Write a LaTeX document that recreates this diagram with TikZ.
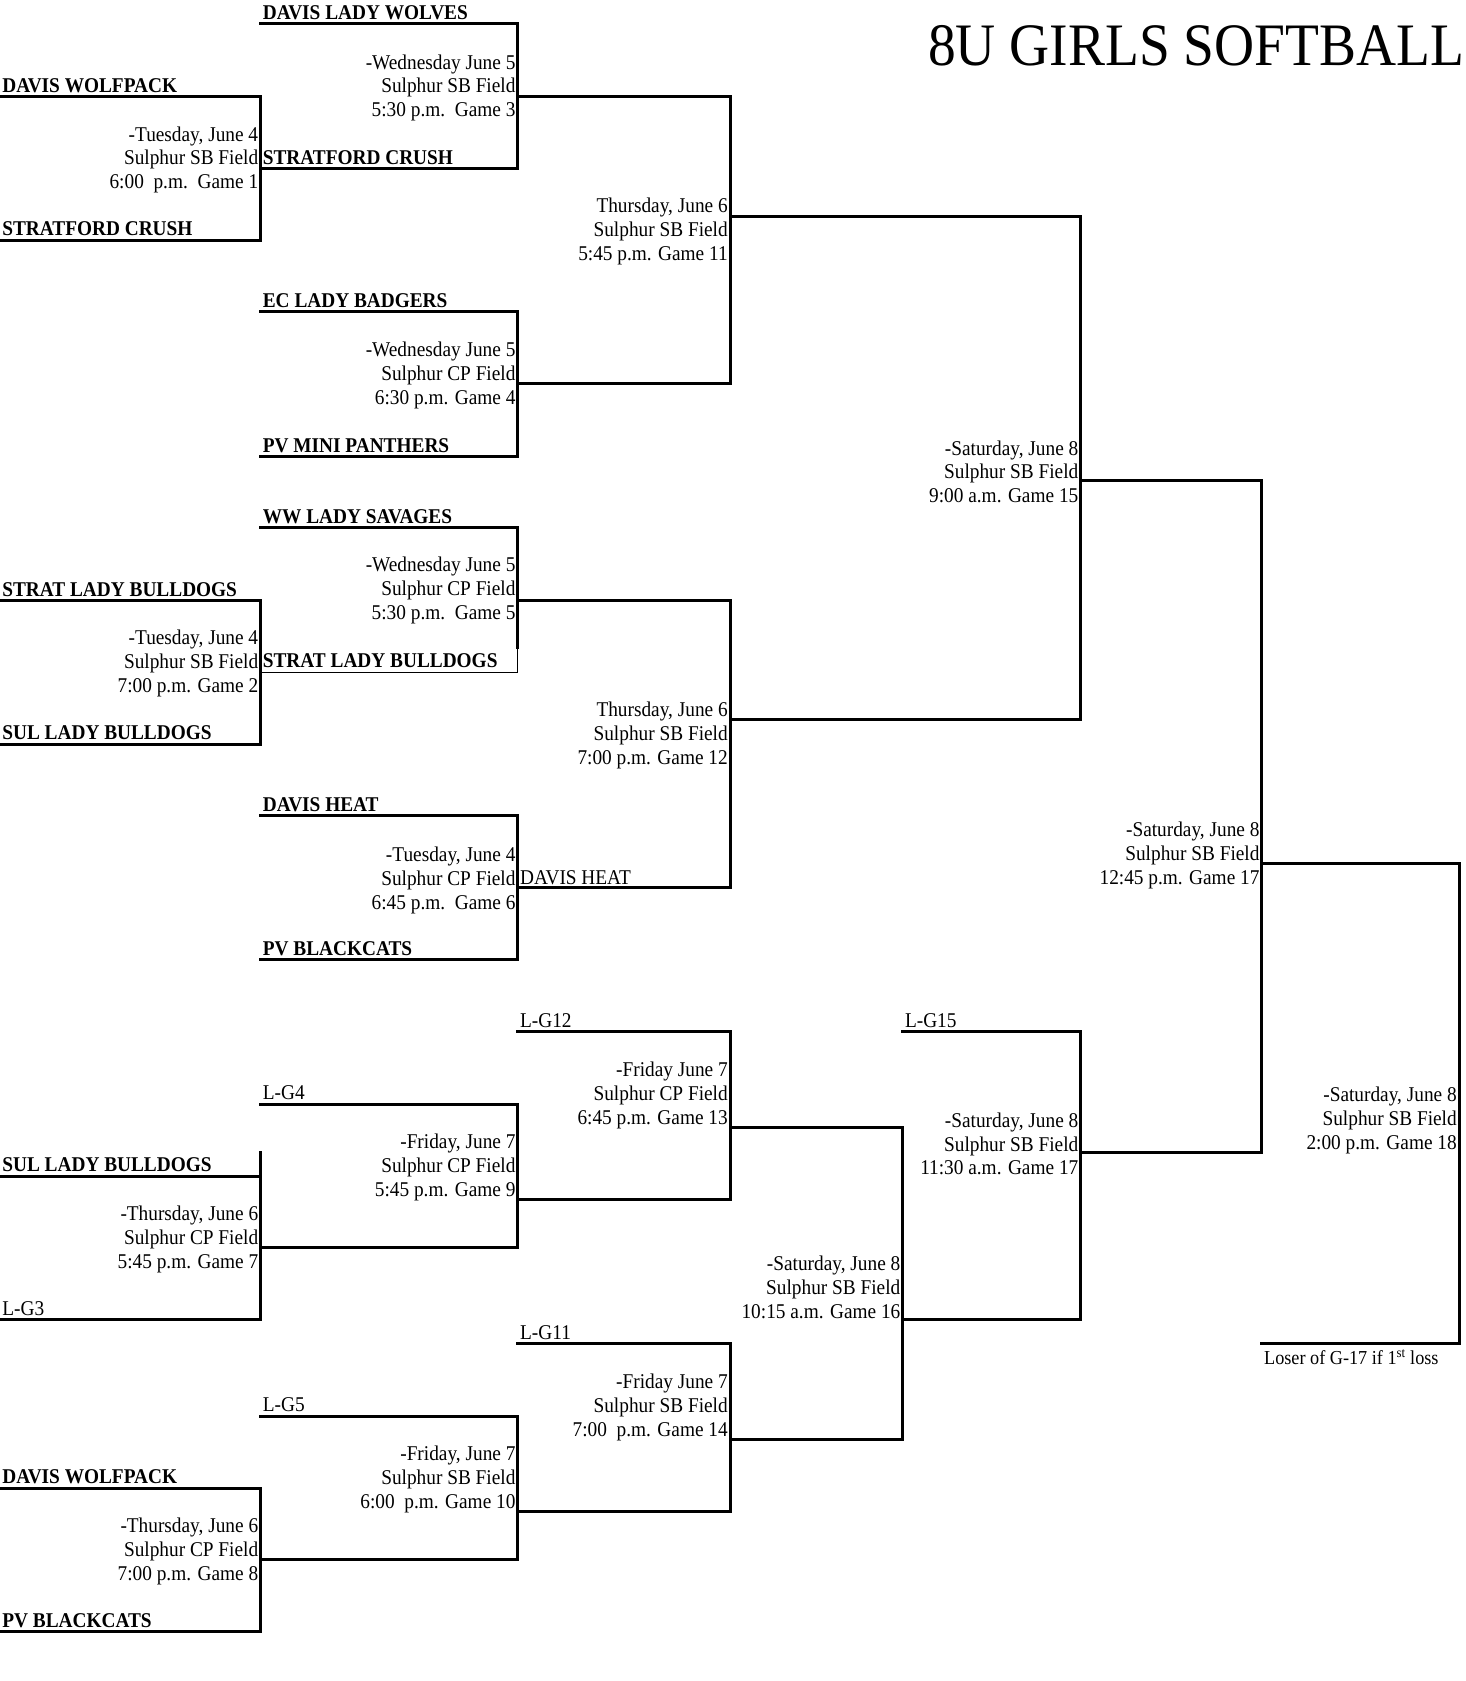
\documentclass[tikz,border=0pt]{standalone}
\usepackage{fontspec}
\setmainfont{Liberation Serif}[FakeStretch=0.92]
\begin{document}
\begin{tikzpicture}[x=1.0724pt,y=-1.0724pt,
  br/.style={line width=3pt,line cap=rect},
  thin/.style={line width=1pt},
  info/.style={anchor=east,align=right,inner sep=0pt,font=\fontsize{21}{23.8}\selectfont},
  team/.style={anchor=base west,inner sep=0pt,font=\fontsize{21}{23.8}\selectfont\bfseries},
  plain/.style={anchor=base west,inner sep=0pt,font=\fontsize{21}{23.8}\selectfont}]
\useasboundingbox (0,0) rectangle (1367,1568);
\fill[white] (0,0) rectangle (1367,1568);
% title
\node[anchor=base east,inner sep=0pt,font=\fontsize{60.3}{64}\selectfont] (title) at (1366,61) {8U GIRLS SOFTBALL};
% ---------- column 1 brackets ----------
\draw[br] (0,90) -- (243,90) -- (243,224) -- (0,224);
\draw[br] (0,560) -- (243,560) -- (243,694) -- (0,694);
\draw[br] (0,1097) -- (243,1097);
\draw[br] (243,1075) -- (243,1231) -- (0,1231);
\draw[br] (0,1388) -- (243,1388) -- (243,1522) -- (0,1522);
% ---------- column 2 brackets ----------
\draw[br] (243,22) -- (483,22) -- (483,157) -- (243,157);
\draw[br] (483,90) -- (681,90);
\draw[br] (243,291) -- (483,291) -- (483,426) -- (243,426);
\draw[br] (483,358) -- (681,358);
\draw[br] (243,492) -- (483,492) -- (483,604);
\draw[thin] (483,604) -- (483,627) -- (243,627);
\draw[br] (483,560) -- (681,560);
\draw[br] (243,761) -- (483,761) -- (483,895) -- (243,895);
\draw[br] (483,828) -- (681,828);
\draw[br] (243,1030) -- (483,1030) -- (483,1164) -- (243,1164);
\draw[br] (483,1119) -- (681,1119);
\draw[br] (243,1321) -- (483,1321) -- (483,1455) -- (243,1455);
\draw[br] (483,1410) -- (681,1410);
% ---------- column 3 ----------
\draw[br] (681,90) -- (681,358);
\draw[br] (681,202) -- (1008,202);
\draw[br] (681,560) -- (681,828);
\draw[br] (681,671) -- (1008,671);
\draw[br] (483,962) -- (681,962) -- (681,1119);
\draw[br] (681,1052) -- (842,1052);
\draw[br] (483,1253) -- (681,1253) -- (681,1410);
\draw[br] (681,1343) -- (842,1343);
\draw[br] (842,1052) -- (842,1343);
\draw[br] (842,1231) -- (1008,1231);
\draw[br] (842,962) -- (1008,962) -- (1008,1231);
\draw[br] (1008,1075) -- (1177,1075);
% ---------- columns 4-6 ----------
\draw[br] (1008,202) -- (1008,671);
\draw[br] (1008,448) -- (1177,448);
\draw[br] (1177,448) -- (1177,1075);
\draw[br] (1177,805) -- (1361,805);
\draw[br] (1361,805) -- (1361,1253) -- (1177,1253);
% ---------- team names ----------
\node[team] (t1) at (245,18) {DAVIS LADY WOLVES};
\node[team] (t2) at (2,86) {DAVIS WOLFPACK};
\node[team] (t3) at (245,153) {STRATFORD CRUSH};
\node[team] (t4) at (2,220) {STRATFORD CRUSH};
\node[team] (t5) at (245,287) {EC LADY BADGERS};
\node[team] (t6) at (245,422) {PV MINI PANTHERS};
\node[team] (t7) at (245,488) {WW LADY SAVAGES};
\node[team] (t8) at (2,556) {STRAT LADY BULLDOGS};
\node[team] (t9) at (245,623) {STRAT LADY BULLDOGS};
\node[team] (t10) at (2,690) {SUL LADY BULLDOGS};
\node[team] (t11) at (245,757) {DAVIS HEAT};
\node[team] (t12) at (245,891) {PV BLACKCATS};
\node[team] (t13) at (2,1093) {SUL LADY BULLDOGS};
\node[team] (t14) at (2,1384) {DAVIS WOLFPACK};
\node[team] (t15) at (2,1518) {PV BLACKCATS};
\node[plain] (p1) at (485,825) {DAVIS HEAT};
\node[plain] (p2) at (485,958) {L-G12};
\node[plain] (p3) at (245,1026) {L-G4};
\node[plain] (p4) at (2,1227) {L-G3};
\node[plain] (p5) at (844,958) {L-G15};
\node[plain] (p6) at (485,1249) {L-G11};
\node[plain] (p7) at (245,1317) {L-G5};
\node[plain,font=\fontsize{19.8}{22}\selectfont] (loser) at (1179,1273) {Loser of G-17 if 1\textsuperscript{st} loss};
% ---------- game info ----------
\node[info] (g3) at (481,82) {-Wednesday June 5\\Sulphur SB Field\\5:30 p.m.\ \ Game 3};
\node[info] (g1) at (241,149) {-Tuesday, June 4\\Sulphur SB Field\\6:00\ \ p.m.\ \ Game 1};
\node[info] (g11) at (679,216) {Thursday, June 6\\Sulphur SB Field\\5:45 p.m. Game 11};
\node[info] (g4) at (481,350) {-Wednesday June 5\\Sulphur CP Field\\6:30 p.m. Game 4};
\node[info] (g15) at (1006,440) {-Saturday, June 8\\Sulphur SB Field\\9:00 a.m. Game 15};
\node[info] (g5) at (481,551) {-Wednesday June 5\\Sulphur CP Field\\5:30 p.m.\ \ Game 5};
\node[info] (g2) at (241,619) {-Tuesday, June 4\\Sulphur SB Field\\7:00 p.m. Game 2};
\node[info] (g12) at (679,686) {Thursday, June 6\\Sulphur SB Field\\7:00 p.m. Game 12};
\node[info] (g6) at (481,821) {-Tuesday, June 4\\Sulphur CP Field\\6:45 p.m.\ \ Game 6};
\node[info] (g17b) at (1175,798) {-Saturday, June 8\\Sulphur SB Field\\12:45 p.m. Game 17};
\node[info] (g13) at (679,1022) {-Friday June 7\\Sulphur CP Field\\6:45 p.m. Game 13};
\node[info] (g9) at (481,1089) {-Friday, June 7\\Sulphur CP Field\\5:45 p.m. Game 9};
\node[info] (g7) at (241,1156) {-Thursday, June 6\\Sulphur CP Field\\5:45 p.m. Game 7};
\node[info] (g17a) at (1006,1067) {-Saturday, June 8\\Sulphur SB Field\\11:30 a.m. Game 17};
\node[info] (g18) at (1359,1045) {-Saturday, June 8\\Sulphur SB Field\\2:00 p.m. Game 18};
\node[info] (g16) at (840,1201) {-Saturday, June 8\\Sulphur SB Field\\10:15 a.m. Game 16};
\node[info] (g14) at (679,1313) {-Friday June 7\\Sulphur SB Field\\7:00\ \ p.m. Game 14};
\node[info] (g10) at (481,1380) {-Friday, June 7\\Sulphur SB Field\\6:00\ \ p.m. Game 10};
\node[info] (g8) at (241,1447) {-Thursday, June 6\\Sulphur CP Field\\7:00 p.m. Game 8};
\end{tikzpicture}
\end{document}
